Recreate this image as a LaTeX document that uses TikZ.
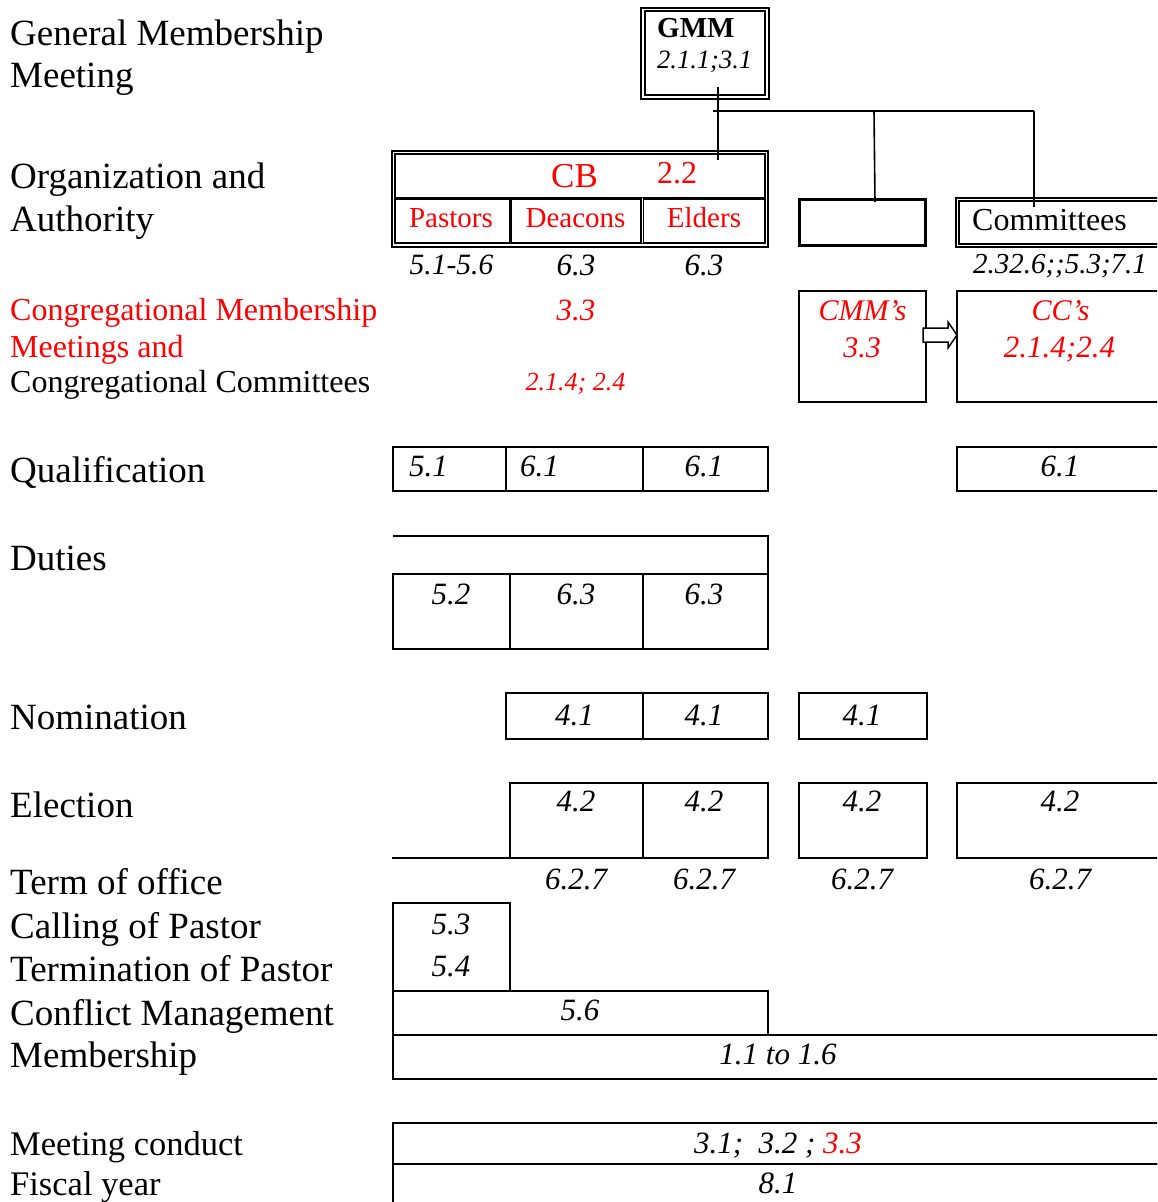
\documentclass[tikz,border=0pt]{standalone}
\usepackage{fontspec}
\setmainfont{Liberation Serif}
\usetikzlibrary{calc}
\tikzset{
 cell/.style={draw, line width=1.7pt, inner sep=0pt, outer sep=0pt, anchor=north west},
 dbl/.style={draw, double, line width=2pt, double distance=1.5pt, inner sep=0pt, outer sep=0pt, anchor=north west},
 thickcell/.style={draw, line width=3.5pt, inner sep=0pt, outer sep=0pt, anchor=north west},
 conn/.style={line width=1.6pt},
 lab/.style={anchor=base west, inner sep=0pt, font=\fontsize{37}{40}\selectfont},
 labs/.style={anchor=base west, inner sep=0pt, font=\fontsize{32}{36}\selectfont},
 labm/.style={anchor=base west, inner sep=0pt, font=\fontsize{34.5}{38}\selectfont},
 num/.style={anchor=base, inner sep=0pt, font=\fontsize{31}{34}\selectfont\itshape},
 numw/.style={anchor=base west, inner sep=0pt, font=\fontsize{31}{34}\selectfont\itshape},
 rnum/.style={num, text=red},
 rom/.style={anchor=base, inner sep=0pt, text=red, font=\fontsize{29}{32}\selectfont},
}
\newcommand\mkbox[6][cell]{\node[#1, minimum width={#5-#3}, minimum height={#6-#4}] (#2) at (#3,#4) {};}
\begin{document}
\begin{tikzpicture}[x=1pt,y=-1pt]
\useasboundingbox (0,0) rectangle (1157,1202);
\clip (0,0) rectangle (1157,1202);
\fill[white] (0,0) rectangle (1157,1202);

% ---------- left labels ----------
\node[lab] (l1) at (10,45) {General Membership};
\node[lab] (l2) at (10,87) {Meeting};
\node[lab] (l3) at (10,188) {Organization and};
\node[lab] (l4) at (10,231) {Authority};
\node[labs, text=red] (l5) at (10,320) {Congregational Membership};
\node[labs, text=red] (l6) at (10,357) {Meetings and};
\node[labs] (l7) at (10,392) {Congregational Committees};
\node[lab] (l8) at (10,482) {Qualification};
\node[lab] (l9) at (10,570) {Duties};
\node[lab] (l10) at (10,729) {Nomination};
\node[lab] (l11) at (10,817) {Election};
\node[lab] (l12) at (10,894) {Term of office};
\node[lab] (l13) at (10,938) {Calling of Pastor};
\node[lab] (l14) at (10,981) {Termination of Pastor};
\node[lab] (l15) at (10,1025) {Conflict Management};
\node[lab] (l16) at (10,1067) {Membership};
\node[labm] (l17) at (10,1155) {Meeting conduct};
\node[labm] (l18) at (10,1195) {Fiscal year};

% ---------- GMM ----------
\mkbox[dbl]{gmm}{643}{9.5}{767}{97}
\node[anchor=base west, inner sep=0pt, font=\fontsize{29}{32}\selectfont\bfseries] (gmmt) at (657,37) {GMM};
\node[anchor=base west, inner sep=0pt, font=\fontsize{26.5}{30}\selectfont\itshape] (gmmn) at (657,68) {2.1.1;3.1};

% ---------- CB ----------
\mkbox[dbl]{cb}{393.5}{152.5}{766.5}{245}
\draw[line width=3pt] (395,198) -- (765,198);
\draw[line width=3pt] (510,198) -- (510,243);
\draw[double, line width=1.3pt, double distance=0.8pt] (642,198) -- (642,243);
\node[anchor=base, inner sep=0pt, text=red, font=\fontsize{35}{38}\selectfont] (cbt) at (574.5,187) {CB};
\node[anchor=base west, inner sep=0pt, text=red, font=\fontsize{32}{35}\selectfont] (cbn) at (657,183) {2.2};
\node[rom] (past) at (451,227) {Pastors};
\node[rom] (deac) at (575.5,227) {Deacons};
\node[rom] (eld) at (704,227) {Elders};
\node[num, font=\fontsize{29.5}{32}\selectfont\itshape] (n1) at (451.5,274) {5.1-5.6};
\node[num] (n2) at (576,275) {6.3};
\node[num] (n3) at (704,275) {6.3};

% ---------- blank box and committees ----------
\mkbox[thickcell]{blank}{799.5}{199.5}{925.5}{245.5}
\mkbox[dbl]{comm}{957.5}{199.5}{1180}{245.5}
\node[anchor=base west, inner sep=0pt, font=\fontsize{32}{35}\selectfont] (commt) at (972,230) {Committees};
\node[num, font=\fontsize{29}{32}\selectfont\itshape] (commn) at (1060,273) {2.32.6;;5.3;7.1};

% ---------- connectors ----------
\coordinate (g0) at (718,87);
\coordinate (g1) at (718,160);
\coordinate (h0) at (713,111);
\coordinate (h1) at (874,111);
\coordinate (h2) at (1034,111);
\coordinate (b1) at (875,202);
\coordinate (b2) at (1034,207);
\draw[conn] (g0) -- (g1);
\draw[conn] (h0) -- (h2);
\draw[conn] (h1) -- (b1);
\draw[conn] (h2) -- (b2);

% ---------- CMM / CC ----------
\node[rnum] (rr1) at (576,320) {3.3};
\node[rnum, font=\fontsize{26}{29}\selectfont\itshape] (rr2) at (575.5,390) {2.1.4; 2.4};
\mkbox{cmm}{799}{291}{926}{402}
\mkbox{cc}{957}{291}{1180}{402}
\node[rnum, font=\fontsize{30}{33}\selectfont\itshape] (cmmt) at (862.5,320) {CMM’s};
\node[rnum, font=\fontsize{30}{33}\selectfont\itshape] (cmmn) at (862,357) {3.3};
\node[rnum, font=\fontsize{30}{33}\selectfont\itshape] (cct) at (1060.5,320) {CC’s};
\node[rnum] (ccn) at (1059.5,357) {2.1.4;2.4};
\draw[line width=1.5pt, fill=white] (923,328) -- (948,328) -- (948,322) -- (957,335) -- (948,348) -- (948,342) -- (923,342) -- cycle;

% ---------- qualification ----------
\mkbox{q1}{393}{447}{506}{491}
\mkbox{q2}{506}{447}{643}{491}
\mkbox{q3}{643}{447}{768}{491}
\mkbox{q4}{957}{447}{1180}{491}
\node[numw] (qt1) at (409,476) {5.1};
\node[numw] (qt2) at (520,476) {6.1};
\node[num] (qt3) at (704,476) {6.1};
\node[num] (qt4) at (1060,476) {6.1};

% ---------- duties ----------
\draw[line width=1.7pt] (393,536) -- (768,536) -- (768,574);
\mkbox{d1}{393}{574}{510}{649}
\mkbox{d2}{510}{574}{643}{649}
\mkbox{d3}{643}{574}{768}{649}
\node[num] (dt1) at (451,604) {5.2};
\node[num] (dt2) at (576,604) {6.3};
\node[num] (dt3) at (704,604) {6.3};

% ---------- nomination ----------
\mkbox{nb1}{506}{693}{643}{739}
\mkbox{nb2}{643}{693}{768}{739}
\mkbox{nb3}{799}{693}{927}{739}
\node[num] (nt1) at (574.5,725) {4.1};
\node[num] (nt2) at (704,725) {4.1};
\node[num] (nt3) at (862,725) {4.1};

% ---------- election ----------
\draw[line width=1.7pt] (392,858) -- (510,858);
\mkbox{e1}{510}{783}{643}{858}
\mkbox{e2}{643}{783}{768}{858}
\mkbox{e3}{799}{783}{927}{858}
\mkbox{e4}{957}{783}{1180}{858}
\node[num] (et1) at (576,811) {4.2};
\node[num] (et2) at (704,811) {4.2};
\node[num] (et3) at (862,811) {4.2};
\node[num] (et4) at (1060,811) {4.2};

% ---------- term of office ----------
\node[num] (tt1) at (576,889) {6.2.7};
\node[num] (tt2) at (704,889) {6.2.7};
\node[num] (tt3) at (862,889) {6.2.7};
\node[num] (tt4) at (1060,889) {6.2.7};

% ---------- calling / conflict / membership ----------
\mkbox{call}{393}{903}{510}{991}
\node[num] (ct1) at (451,934) {5.3};
\node[num] (ct2) at (451,976) {5.4};
\mkbox{conf}{393}{991}{768}{1035}
\node[num] (cft) at (580,1020) {5.6};
\mkbox{memb}{393}{1035}{1180}{1079}
\node[num] (mt) at (778,1064) {1.1 to 1.6};

% ---------- meeting conduct / fiscal year ----------
\mkbox{meet}{393}{1123}{1180}{1164}
\node[num] (met) at (778,1153) {3.1;\ \ 3.2 ; \textcolor{red}{3.3}};
\mkbox{fisc}{393}{1164}{1180}{1220}
\node[num] (ft) at (778,1193) {8.1};
\end{tikzpicture}
\end{document}
